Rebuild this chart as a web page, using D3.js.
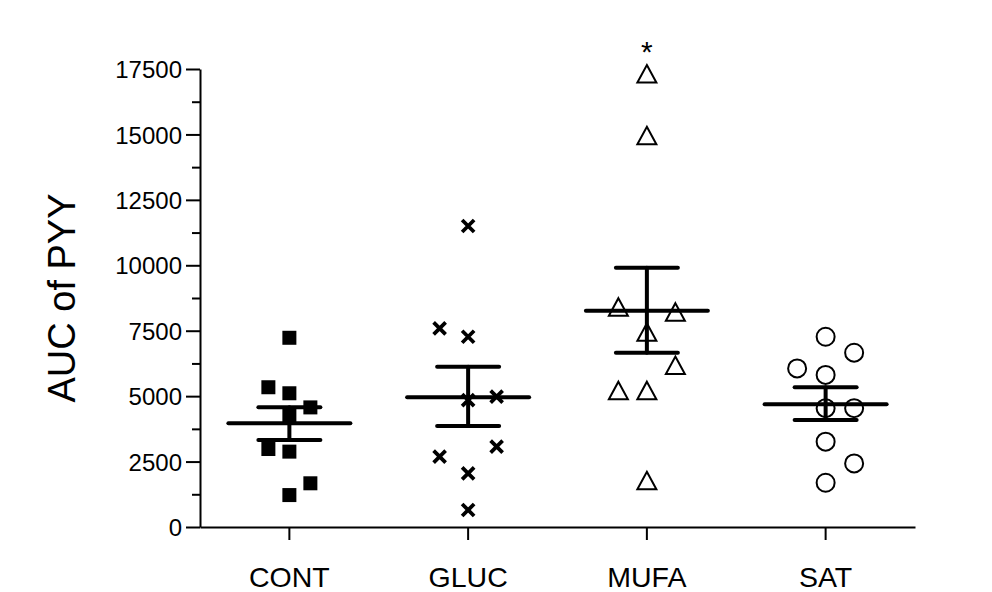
<!DOCTYPE html>
<html>
<head>
<meta charset="utf-8">
<script src="https://cdn.jsdelivr.net/npm/d3@7"></script>
<style>
  html, body { margin: 0; padding: 0; background: #fff; }
  svg { display: block; font-family: "Liberation Sans", Arial, sans-serif; }
</style>
</head>
<body>
<div id="chart"></div>
<script>
const groups = ["CONT", "GLUC", "MUFA", "SAT"];

// individual values per group, with the column slot used for the scatter (-1 left, 0 centre, 1 right)
const contValues = [7230, 5340, 5110, 4570, 4280, 2980, 2880, 1670, 1220];
const contSlots  = [0, -1, 0, 1, 0, -1, 0, 1, 0];
const glucValues = [11500, 7590, 7270, 4850, 4980, 3070, 2690, 2050, 650];
const glucSlots  = [0, -1, 0, 0, 1, 1, -1, 0, 0];
const mufaValues = [17270, 14910, 8360, 8170, 7400, 6130, 5170, 5170, 1730];
const mufaSlots  = [0, 0, -1, 1, 0, 1, -1, 0, 0];
const satValues  = [7270, 6660, 6060, 5810, 4540, 4540, 3260, 2430, 1690];
const satSlots   = [0, 1, -1, 0, 0, 1, 0, 1, 0];

const means    = [3960, 4955, 8265, 4690];
const semUpper = [4575, 6125, 9910, 5340];
const semLower = [3325, 3860, 6660, 4090];

const yTicks = [0, 2500, 5000, 7500, 10000, 12500, 15000, 17500];
const yMinorTicks = [1250, 3750, 6250, 8750, 11250, 13750, 16250];

const width = 992;
const height = 592;
const margin = { top: 69, right: 77, bottom: 65, left: 200 };
const fontFamily = '"Liberation Sans", Arial, sans-serif';

const x = d3.scaleBand()
  .domain(groups)
  .range([margin.left, width - margin.right]);

const y = d3.scaleLinear()
  .domain([0, 17500])
  .range([height - margin.bottom, margin.top]);

const svg = d3.select("#chart")
  .append("svg")
  .attr("width", width)
  .attr("height", height)
  .attr("viewBox", [0, 0, width, height]);

svg.append("rect")
  .attr("width", width)
  .attr("height", height)
  .attr("fill", "#fff");

// minor y ticks
svg.append("g")
  .attr("transform", `translate(${margin.left},0)`)
  .call(d3.axisLeft(y).tickValues(yMinorTicks).tickSize(8).tickFormat(""))
  .call(g => g.select(".domain").remove())
  .call(g => g.selectAll("line").attr("stroke", "#000").attr("stroke-width", 2));

// y axis
const yAxis = svg.append("g")
  .attr("transform", `translate(${margin.left},0)`)
  .call(d3.axisLeft(y).tickValues(yTicks).tickFormat(d3.format("d"))
    .tickSize(14).tickSizeOuter(0).tickPadding(4))
  .attr("font-family", fontFamily);

yAxis.select(".domain").attr("stroke", "#000").attr("stroke-width", 2);
yAxis.selectAll("line").attr("stroke", "#000").attr("stroke-width", 2);
yAxis.selectAll("text")
  .attr("font-size", 24)
  .attr("fill", "#000")
  .attr("dy", "0.36em");

// x axis
const xAxis = svg.append("g")
  .attr("transform", `translate(0,${height - margin.bottom})`)
  .call(d3.axisBottom(x).tickSize(13).tickSizeOuter(0).tickPadding(27))
  .attr("font-family", fontFamily);

xAxis.select(".domain").attr("stroke", "#000").attr("stroke-width", 2);
xAxis.selectAll("line").attr("stroke", "#000").attr("stroke-width", 2);
xAxis.selectAll("text")
  .attr("font-size", 28.5)
  .attr("fill", "#000");

// y title
svg.append("text")
  .attr("transform", `translate(75,${(y(0) + y(17500)) / 2}) rotate(-90)`)
  .attr("text-anchor", "middle")
  .attr("font-size", 38)
  .attr("fill", "#000")
  .text("AUC of PYY");

const cx = g => x(g) + x.bandwidth() / 2;
const jitterStep = [21, 28.5, 28.5, 28.5];

const series = [
  { values: contValues, slots: contSlots },
  { values: glucValues, slots: glucSlots },
  { values: mufaValues, slots: mufaSlots },
  { values: satValues, slots: satSlots }
];

const marks = svg.append("g");

series.forEach((s, i) => {
  const g = groups[i];
  s.values.forEach((v, j) => {
    const px = cx(g) + s.slots[j] * jitterStep[i];
    const py = y(v);
    if (g === "CONT") {
      marks.append("rect")
        .attr("x", px - 7).attr("y", py - 7)
        .attr("width", 14).attr("height", 14)
        .attr("fill", "#000");
    } else if (g === "GLUC") {
      marks.append("path")
        .attr("d", `M${px - 6},${py - 6}L${px + 6},${py + 6}M${px - 6},${py + 6}L${px + 6},${py - 6}`)
        .attr("stroke", "#000")
        .attr("stroke-width", 3.8)
        .attr("fill", "none");
    } else if (g === "MUFA") {
      marks.append("path")
        .attr("d", `M${px},${py - 10}L${px + 9.5},${py + 7.5}L${px - 9.5},${py + 7.5}Z`)
        .attr("stroke", "#000")
        .attr("stroke-width", 2)
        .attr("stroke-linejoin", "miter")
        .attr("fill", "none");
    } else {
      marks.append("circle")
        .attr("cx", px).attr("cy", py).attr("r", 9)
        .attr("stroke", "#000")
        .attr("stroke-width", 2)
        .attr("fill", "none");
    }
  });
});

// mean and SEM bars
const bars = svg.append("g")
  .attr("stroke", "#000")
  .attr("stroke-width", 4)
  .attr("stroke-linecap", "round");

groups.forEach((g, i) => {
  const c = cx(g);
  bars.append("line")
    .attr("x1", c - 61).attr("x2", c + 61)
    .attr("y1", y(means[i])).attr("y2", y(means[i]));
  bars.append("line")
    .attr("x1", c).attr("x2", c)
    .attr("y1", y(semUpper[i])).attr("y2", y(semLower[i]));
  bars.append("line")
    .attr("x1", c - 31).attr("x2", c + 31)
    .attr("y1", y(semUpper[i])).attr("y2", y(semUpper[i]));
  bars.append("line")
    .attr("x1", c - 31).attr("x2", c + 31)
    .attr("y1", y(semLower[i])).attr("y2", y(semLower[i]));
});

// significance mark
svg.append("text")
  .attr("x", cx("MUFA"))
  .attr("y", y(d3.max(mufaValues)) - 13)
  .attr("text-anchor", "middle")
  .attr("font-size", 30)
  .attr("fill", "#000")
  .text("*");
</script>
</body>
</html>
